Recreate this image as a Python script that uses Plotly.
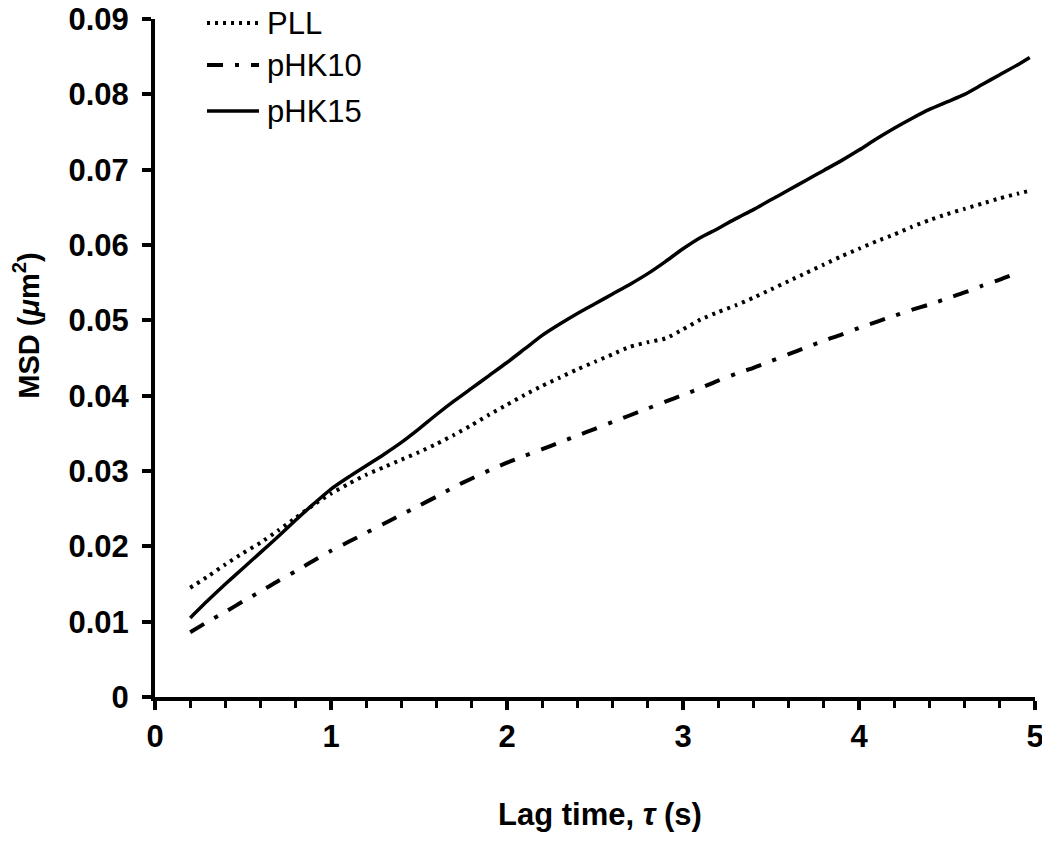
import plotly.graph_objects as go

# lag time (s)
tau = [0.2, 0.3, 0.4, 0.5, 0.6, 0.7, 0.8, 0.9, 1.0,
       1.1, 1.2, 1.3, 1.4, 1.5, 1.6, 1.7, 1.8, 1.9, 2.0,
       2.1, 2.2, 2.3, 2.4, 2.5, 2.6, 2.7, 2.8, 2.9, 3.0,
       3.1, 3.2, 3.3, 3.4, 3.5, 3.6, 3.7, 3.8, 3.9, 4.0,
       4.1, 4.2, 4.3, 4.4, 4.5, 4.6, 4.7, 4.8, 4.9, 4.97]

# MSD (um^2)
msd_pll = [0.0145, 0.0160, 0.0176, 0.0191, 0.0205, 0.0221, 0.0238, 0.0255, 0.0270,
           0.0283, 0.0295, 0.0305, 0.0315, 0.0325, 0.0336, 0.0348, 0.0361, 0.0375, 0.0388,
           0.0401, 0.0413, 0.0424, 0.0435, 0.0445, 0.0455, 0.0465, 0.0471, 0.0476, 0.0488,
           0.0501, 0.0511, 0.0520, 0.0530, 0.0541, 0.0552, 0.0563, 0.0574, 0.0585, 0.0595,
           0.0605, 0.0614, 0.0624, 0.0633, 0.0641, 0.0648, 0.0655, 0.0662, 0.0668, 0.0672]

msd_phk10 = [0.0086, 0.0100, 0.0113, 0.0127, 0.0140, 0.0154, 0.0167, 0.0181, 0.0194,
             0.0206, 0.0218, 0.0230, 0.0242, 0.0254, 0.0266, 0.0279, 0.0290, 0.0301, 0.0311,
             0.0320, 0.0329, 0.0338, 0.0347, 0.0356, 0.0365, 0.0374, 0.0383, 0.0392, 0.0401,
             0.0410, 0.0420, 0.0429, 0.0437, 0.0446, 0.0455, 0.0464, 0.0473, 0.0481, 0.0490,
             0.0498, 0.0506, 0.0514, 0.0521, 0.0529, 0.0537, 0.0546, 0.0554, 0.0563, None]

msd_phk15 = [0.0105, 0.0128, 0.0150, 0.0171, 0.0192, 0.0213, 0.0235, 0.0256, 0.0276,
             0.0292, 0.0307, 0.0322, 0.0338, 0.0356, 0.0375, 0.0393, 0.0410, 0.0427, 0.0444,
             0.0462, 0.0480, 0.0495, 0.0509, 0.0522, 0.0535, 0.0548, 0.0562, 0.0578, 0.0595,
             0.0610, 0.0622, 0.0635, 0.0647, 0.0660, 0.0673, 0.0686, 0.0699, 0.0712, 0.0726,
             0.0741, 0.0755, 0.0768, 0.0780, 0.0790, 0.0800, 0.0813, 0.0826, 0.0839, 0.0849]

series_names = ["PLL", "pHK10", "pHK15"]

FONT = "Liberation Sans, Arial, Helvetica, sans-serif"

# line styles per series
styles = {
    "PLL": dict(color="black", width=4, dash="3px,5px"),
    "pHK10": dict(color="black", width=4, dash="16px,12px,4px,12px"),
    "pHK15": dict(color="black", width=3.5),
}

fig = go.Figure()

for name, values in zip(series_names, [msd_pll, msd_phk10, msd_phk15]):
    fig.add_trace(go.Scatter(
        name=name, x=tau, y=values, mode="lines", showlegend=False,
        line=dict(**styles[name], shape="spline", smoothing=0.6),
    ))

# hand-placed legend up in the top-left corner, like the original
legend_y = [0.994, 0.932, 0.8643]
shapes = []
annotations = []
for name, ly in zip(series_names, legend_y):
    st = styles[name]
    shapes.append(dict(
        type="line", xref="paper", yref="paper",
        x0=0.0591, x1=0.1182, y0=ly, y1=ly,
        line=dict(color=st["color"], width=st["width"], dash=st.get("dash", "solid")),
    ))
    annotations.append(dict(
        text=name, xref="paper", yref="paper", x=0.125, y=ly,
        xanchor="left", yanchor="middle", showarrow=False,
        font=dict(size=31),
    ))

annotations += [
    dict(
        text="MSD (<i>μ</i>m<sup>2</sup>)",
        xref="paper", yref="paper", x=-0.146, y=0.547,
        xanchor="center", yanchor="middle", textangle=-90, showarrow=False,
        font=dict(size=29, weight="bold"),
    ),
    dict(
        text="Lag time, <i>τ</i> (s)",
        xref="paper", yref="paper", x=0.506, y=-0.173,
        xanchor="center", yanchor="middle", showarrow=False,
        font=dict(size=31, weight="bold"),
    ),
]

fig.update_layout(
    width=1050,
    height=847,
    margin=dict(l=147, r=23, t=11, b=158, autoexpand=False),
    paper_bgcolor="white",
    plot_bgcolor="white",
    font=dict(family=FONT, color="black"),
    showlegend=False,
    shapes=shapes,
    annotations=annotations,
)

fig.update_xaxes(
    range=[0, 5],
    dtick=1,
    automargin=False,
    showgrid=False,
    zeroline=False,
    showline=True,
    linecolor="black",
    linewidth=4,
    ticks="outside",
    ticklen=9,
    tickwidth=4,
    tickcolor="black",
    ticklabelstandoff=0,
    ticklabeloverflow="allow",
    tickfont=dict(size=31, weight="bold"),
    minor=dict(dtick=0.2, ticks="outside", ticklen=7, tickwidth=3, tickcolor="black"),
)

fig.update_yaxes(
    range=[0, 0.09],
    dtick=0.01,
    automargin=False,
    showgrid=False,
    zeroline=False,
    showline=True,
    linecolor="black",
    linewidth=4,
    ticks="outside",
    ticklen=9,
    tickwidth=4,
    tickcolor="black",
    ticklabelstandoff=7,
    ticklabeloverflow="allow",
    tickfont=dict(size=31, weight="bold"),
)

fig.write_html("out.html")
